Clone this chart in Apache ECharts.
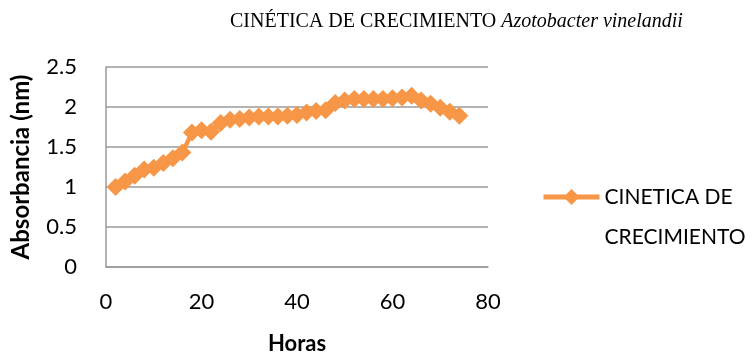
<!DOCTYPE html>
<html>
<head>
<meta charset="utf-8">
<script src="https://cdn.jsdelivr.net/npm/echarts@6/dist/echarts.min.js"></script>
<style>
  html, body { margin: 0; padding: 0; background: #ffffff; }
  #chart { width: 752px; height: 356px; }
</style>
</head>
<body>
<div id="chart"></div>
<script>
// Growth kinetics: absorbance readings every 2 hours
const hours = [2, 4, 6, 8, 10, 12, 14, 16, 18, 20, 22, 24, 26, 28, 30, 32, 34, 36, 38,
               40, 42, 44, 46, 48, 50, 52, 54, 56, 58, 60, 62, 64, 66, 68, 70, 72, 74];
const absorbance = [1.00, 1.07, 1.14, 1.22, 1.24, 1.30, 1.36, 1.43, 1.68, 1.71, 1.69, 1.80,
                    1.84, 1.85, 1.87, 1.88, 1.88, 1.88, 1.89, 1.90, 1.93, 1.95, 1.96, 2.05,
                    2.08, 2.10, 2.10, 2.10, 2.10, 2.11, 2.12, 2.14, 2.08, 2.04, 1.99, 1.94, 1.89];
const seriesName = 'CINETICA DE CRECIMIENTO';
const legendLines = ['CINETICA DE', 'CRECIMIENTO'];
const xTitle = 'Horas';
const yTitle = 'Absorbancia (nm)';
const titleMain = 'CINÉTICA DE CRECIMIENTO ';
const titleSpecies = 'Azotobacter vinelandii';

const points = hours.map((h, i) => [h, absorbance[i]]);
const orange = '#F79646';
const sans = 'Lato, "Open Sans", sans-serif';

const chart = echarts.init(document.getElementById('chart'), null, { renderer: 'canvas' });
chart.setOption({
  backgroundColor: '#ffffff',
  animation: false,
  title: {
    text: '{n|' + titleMain + '}{i|' + titleSpecies + '}',
    left: 225,
    top: 7,
    textStyle: {
      rich: {
        n: { fontFamily: '"Liberation Serif", serif', fontSize: 20, fontWeight: 'normal', color: '#000' },
        i: { fontFamily: '"Liberation Serif", serif', fontSize: 20, fontStyle: 'italic', fontWeight: 'normal', color: '#000' }
      }
    }
  },
  legend: {
    left: 541,
    top: 137,
    padding: 0,
    orient: 'vertical',
    itemWidth: 56,
    itemHeight: 20,
    lineStyle: { width: 5 },
    // blank first line keeps the marker level with "CINETICA DE"
    formatter: () => [' '].concat(legendLines).join('\n'),
    textStyle: {
      fontFamily: sans,
      fontSize: 21,
      color: '#000',
      lineHeight: 40
    },
    data: [{ name: seriesName }]
  },
  grid: { left: 106, right: 264, top: 67, bottom: 89, containLabel: false, outerBoundsMode: 'none' },
  xAxis: {
    type: 'value',
    min: 0, max: 80, interval: 20,
    name: xTitle,
    nameLocation: 'middle',
    nameGap: 66,
    nameTextStyle: { fontFamily: sans, fontSize: 22, fontWeight: 'bold', color: '#000' },
    axisLine: { show: true, lineStyle: { color: '#9a9a9a', width: 1.5 } },
    axisTick: { show: false },
    splitLine: { show: false },
    axisLabel: { fontFamily: sans, fontSize: 22, color: '#000', margin: 24 }
  },
  yAxis: {
    type: 'value',
    min: 0, max: 2.5, interval: 0.5,
    name: yTitle,
    nameLocation: 'middle',
    nameGap: 73,
    nameRotate: 90,
    nameTextStyle: { fontFamily: sans, fontSize: 24, fontWeight: 'bold', color: '#000', padding: [0, 0, 0, 0] },
    axisLine: { show: true, lineStyle: { color: '#9a9a9a', width: 1.5 } },
    axisTick: { show: false },
    splitLine: { show: true, lineStyle: { color: '#9a9a9a', width: 1.5 } },
    axisLabel: { fontFamily: sans, fontSize: 22, color: '#000', margin: 29 }
  },
  series: [{
    name: seriesName,
    type: 'line',
    data: points,
    symbol: 'diamond',
    symbolSize: 18,
    showSymbol: true,
    itemStyle: { color: orange },
    lineStyle: { color: orange, width: 4.5 }
  }]
});
</script>
</body>
</html>
